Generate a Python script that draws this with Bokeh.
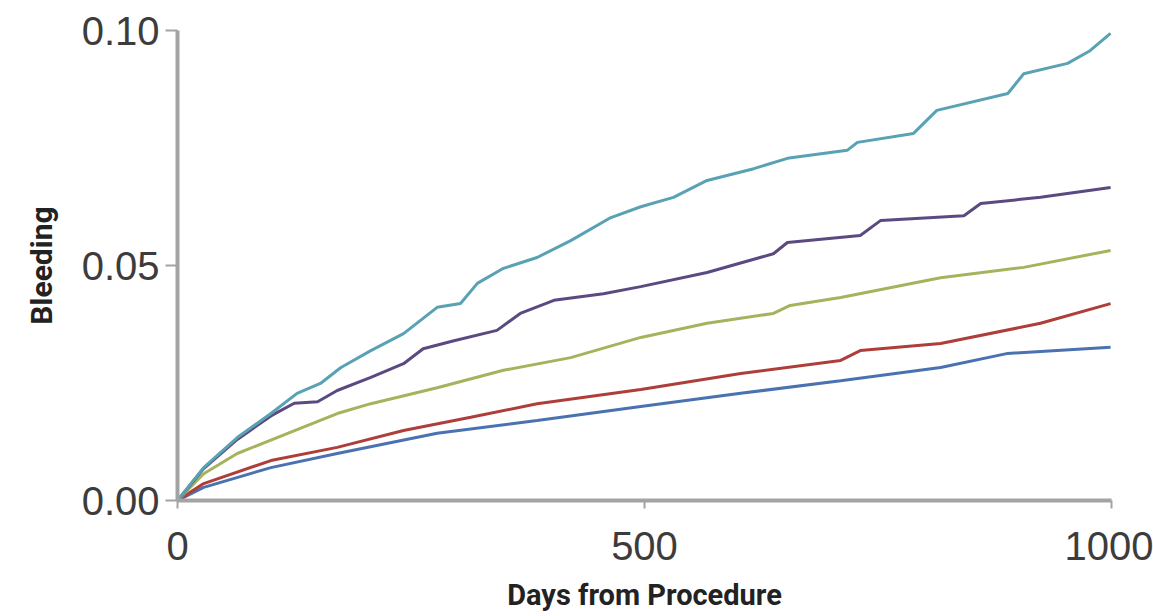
from bokeh.plotting import figure
from bokeh.models import Range1d, FixedTicker
from bokeh.embed import file_html
from bokeh.resources import INLINE

# ---- data ----
x_ticks = [0, 500, 1000]
y_ticks = [0.0, 0.05, 0.10]
y_tick_labels = {0.0: "0.00", 0.05: "0.05", 0.1: "0.10"}

cyan_days = [0, 28, 64, 100, 128, 153, 175, 207, 242, 278, 303, 321, 349, 385, 421, 464, 496,
             531, 567, 617, 653, 717, 728, 788, 813, 889, 906, 953, 977, 999]
cyan_vals = [0, 0.0070, 0.0134, 0.0185, 0.0228, 0.0249, 0.0283, 0.0319, 0.0355, 0.0411, 0.0419,
             0.0462, 0.0494, 0.0517, 0.0553, 0.0602, 0.0625, 0.0645, 0.0681, 0.0706, 0.0728,
             0.0745, 0.0762, 0.0781, 0.0830, 0.0866, 0.0908, 0.0930, 0.0957, 0.0994]

purple_days = [0, 28, 64, 100, 125, 150, 171, 207, 242, 263, 296, 342, 367, 403, 456, 496, 567,
               638, 653, 731, 753, 842, 860, 924, 999]
purple_vals = [0, 0.0068, 0.0130, 0.0180, 0.0207, 0.0210, 0.0234, 0.0262, 0.0291, 0.0323, 0.0340,
               0.0362, 0.0398, 0.0426, 0.0440, 0.0455, 0.0485, 0.0525, 0.0549, 0.0564, 0.0596,
               0.0606, 0.0632, 0.0645, 0.0666]

green_days = [0, 28, 64, 118, 171, 207, 278, 349, 421, 496, 567, 638, 656, 710, 817, 906, 999]
green_vals = [0, 0.0057, 0.0100, 0.0143, 0.0185, 0.0206, 0.0240, 0.0277, 0.0304, 0.0347, 0.0377,
              0.0398, 0.0415, 0.0432, 0.0474, 0.0496, 0.0532]

red_days = [0, 28, 100, 171, 242, 314, 385, 496, 603, 710, 731, 817, 924, 999]
red_vals = [0, 0.0036, 0.0085, 0.0113, 0.0149, 0.0177, 0.0206, 0.0236, 0.0270, 0.0298, 0.0319,
            0.0334, 0.0377, 0.0419]

blue_days = [0, 28, 100, 171, 278, 385, 496, 603, 710, 817, 889, 999]
blue_vals = [0, 0.0028, 0.0070, 0.0100, 0.0143, 0.0170, 0.0200, 0.0228, 0.0255, 0.0283, 0.0313,
             0.0326]

series = [
    (blue_days, blue_vals, "#4A72B0"),
    (red_days, red_vals, "#AE3E3A"),
    (green_days, green_vals, "#A6B35C"),
    (purple_days, purple_vals, "#5B4A82"),
    (cyan_days, cyan_vals, "#58A2B4"),
]

p = figure(width=1153, height=616, output_backend="svg", toolbar_location=None,
           x_range=Range1d(0, 1000), y_range=Range1d(0, 0.10),
           min_border_left=177, min_border_right=42, min_border_top=30, min_border_bottom=116)
p.outline_line_color = None
p.xgrid.visible = False
p.ygrid.visible = False
p.background_fill_color = "white"
p.border_fill_color = "white"

for d, v, c in series:
    p.line(d, v, line_color=c, line_width=3)

axis_gray = "#A3A3A3"
label_col = "#3C3C3C"

p.xaxis.ticker = FixedTicker(ticks=x_ticks)
p.yaxis.ticker = FixedTicker(ticks=y_ticks)
p.yaxis.major_label_overrides = y_tick_labels

for ax in (p.xaxis[0], p.yaxis[0]):
    ax.axis_line_color = axis_gray
    ax.axis_line_width = 4
    ax.major_tick_line_color = axis_gray
    ax.major_tick_line_width = 2
    ax.major_tick_in = 0
    ax.minor_tick_line_color = None
    ax.major_label_text_font = "Liberation Sans"
    ax.major_label_text_font_size = "40px"
    ax.major_label_text_color = label_col
    ax.axis_label_text_font = "Roboto"
    ax.axis_label_text_font_style = "bold"
    ax.axis_label_text_color = "#222222"

p.yaxis.major_tick_out = 12
p.yaxis.major_label_standoff = 6
p.yaxis.axis_label = "Bleeding"
p.yaxis.axis_label_text_font_size = "30px"
p.yaxis.axis_label_standoff = 20

p.xaxis.major_tick_out = 8
p.xaxis.major_label_standoff = 23
p.xaxis.axis_label = "Days from Procedure"
p.xaxis.axis_label_text_font_size = "29px"
p.xaxis.axis_label_standoff = 15

open("out.html", "w").write(file_html(p, INLINE))
